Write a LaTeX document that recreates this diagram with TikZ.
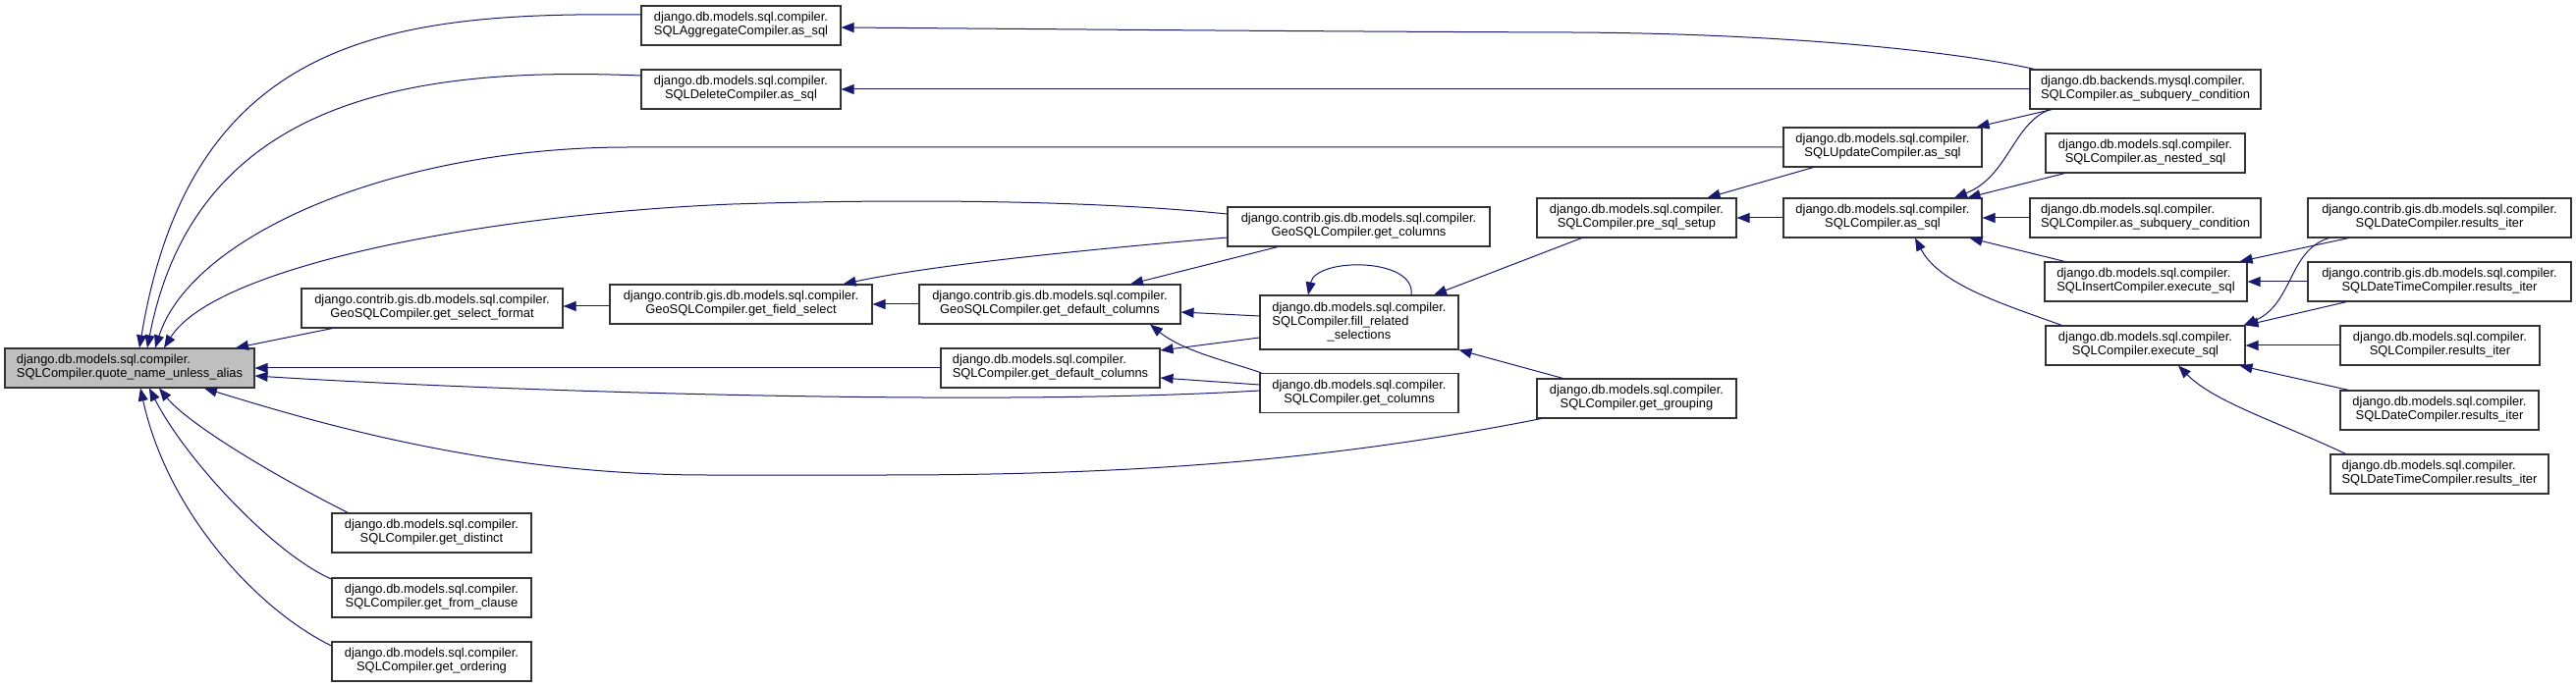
\documentclass[tikz,border=0pt]{standalone}
\usepackage{fontspec}
\setmainfont{Liberation Sans}
\usetikzlibrary{arrows.meta,calc}
\definecolor{edgeblue}{RGB}{25,25,112}
\definecolor{maingray}{RGB}{191,191,191}
\newcommand\twol[2]{\begin{tabular}{@{}l@{}}#1\\\multicolumn{1}{@{}c@{}}{#2}\end{tabular}}
\newcommand\threel[3]{\begin{tabular}{@{}l@{}}#1\\#2\\\multicolumn{1}{@{}c@{}}{#3}\end{tabular}}
\begin{document}
\begin{tikzpicture}[x=1pt,y=-1pt,
  box/.style={draw=black!80, line width=1.1pt, fill=white, minimum height=40pt, inner sep=0pt,
    font=\fontsize{12.9}{14}\selectfont},
  edge/.style={draw=edgeblue, line width=1pt, -{Triangle[length=13pt,width=10pt]}}]
\fill[white] (0,0) rectangle (2623,700);
\useasboundingbox (0,0) rectangle (2623,700);
% nodes
\node[box, fill=maingray, minimum width=254pt] (main) at (132,375) {\twol{django.db.models.sql.compiler.}{SQLCompiler.quote\_name\_unless\_alias}};
\node[box, minimum width=203pt] (aggas) at (754.5,26) {\twol{django.db.models.sql.compiler.}{SQLAggregateCompiler.as\_sql}};
\node[box, minimum width=203pt] (delas) at (754.5,91) {\twol{django.db.models.sql.compiler.}{SQLDeleteCompiler.as\_sql}};
\node[box, minimum width=266pt] (selfmt) at (440,314) {\twol{django.contrib.gis.db.models.sql.compiler.}{GeoSQLCompiler.get\_select\_format}};
\node[box, minimum width=267pt] (fieldsel) at (754.5,310) {\twol{django.contrib.gis.db.models.sql.compiler.}{GeoSQLCompiler.get\_field\_select}};
\node[box, minimum width=267pt] (geocols) at (1383.5,231) {\twol{django.contrib.gis.db.models.sql.compiler.}{GeoSQLCompiler.get\_columns}};
\node[box, minimum width=266pt] (geodefcols) at (1069,310) {\twol{django.contrib.gis.db.models.sql.compiler.}{GeoSQLCompiler.get\_default\_columns}};
\node[box, minimum width=223pt] (sqldefcols) at (1069.5,375) {\twol{django.db.models.sql.compiler.}{SQLCompiler.get\_default\_columns}};
\node[box, minimum width=202pt, minimum height=55pt] (fillrel) at (1384,328.5) {\threel{django.db.models.sql.compiler.}{SQLCompiler.fill\_related}{\_selections}};
\node[box, minimum width=202pt] (sqlcols) at (1384,400.5) {\twol{django.db.models.sql.compiler.}{SQLCompiler.get\_columns}};
\node[box, minimum width=203pt] (presql) at (1666.5,222) {\twol{django.db.models.sql.compiler.}{SQLCompiler.pre\_sql\_setup}};
\node[box, minimum width=203pt] (grouping) at (1666.5,406) {\twol{django.db.models.sql.compiler.}{SQLCompiler.get\_grouping}};
\node[box, minimum width=202pt] (updas) at (1917,150) {\twol{django.db.models.sql.compiler.}{SQLUpdateCompiler.as\_sql}};
\node[box, minimum width=235pt] (mysql) at (2184.5,91) {\twol{django.db.backends.mysql.compiler.}{SQLCompiler.as\_subquery\_condition}};
\node[box, minimum width=203pt] (asnested) at (2184.5,156) {\twol{django.db.models.sql.compiler.}{SQLCompiler.as\_nested\_sql}};
\node[box, minimum width=202pt] (assql) at (1917,222) {\twol{django.db.models.sql.compiler.}{SQLCompiler.as\_sql}};
\node[box, minimum width=235pt] (assubq) at (2184.5,222) {\twol{django.db.models.sql.compiler.}{SQLCompiler.as\_subquery\_condition}};
\node[box, minimum width=268pt] (gisdate) at (2484,222) {\twol{django.contrib.gis.db.models.sql.compiler.}{SQLDateCompiler.results\_iter}};
\node[box, minimum width=206pt] (insexec) at (2185,287) {\twol{django.db.models.sql.compiler.}{SQLInsertCompiler.execute\_sql}};
\node[box, minimum width=268pt] (gisdatetime) at (2484,287) {\twol{django.contrib.gis.db.models.sql.compiler.}{SQLDateTimeCompiler.results\_iter}};
\node[box, minimum width=203pt] (execsql) at (2184.5,352) {\twol{django.db.models.sql.compiler.}{SQLCompiler.execute\_sql}};
\node[box, minimum width=203pt] (resiter) at (2484.5,352) {\twol{django.db.models.sql.compiler.}{SQLCompiler.results\_iter}};
\node[box, minimum width=202pt] (dateres) at (2484,418) {\twol{django.db.models.sql.compiler.}{SQLDateCompiler.results\_iter}};
\node[box, minimum width=222pt] (datetimeres) at (2484,483) {\twol{django.db.models.sql.compiler.}{SQLDateTimeCompiler.results\_iter}};
\node[box, minimum width=203pt] (distinct) at (439.5,543) {\twol{django.db.models.sql.compiler.}{SQLCompiler.get\_distinct}};
\node[box, minimum width=203pt] (fromclause) at (439.5,609) {\twol{django.db.models.sql.compiler.}{SQLCompiler.get\_from\_clause}};
\node[box, minimum width=203pt] (ordering) at (439.5,674) {\twol{django.db.models.sql.compiler.}{SQLCompiler.get\_ordering}};
% edges into main
\draw[edge] ($(aggas.west)+(0,-11)$) .. controls (400,12) and (195,35) .. ($(main.north)+(10,0)$);
\draw[edge] ($(delas.west)+(0,-14)$) .. controls (430,68) and (200,95) .. ($(main.north)+(18,0)$);
\draw[edge] (updas.west) -- (640,150) .. controls (400,150) and (195,240) .. ($(main.north)+(26,0)$);
\draw[edge] ($(geocols.west)+(0,-13)$) .. controls (1100,203) and (900,203) .. (746,208) .. controls (500,218) and (220,270) .. ($(main.north)+(35,0)$);
\draw[edge] ($(selfmt.south west)+(32,0)$) -- ($(main.north)+(108,0)$);
\draw[edge] (sqldefcols.west) -- (main.east);
\draw[edge] ($(sqlcols.west)+(0,-2.5)$) .. controls (1000,415) and (500,398) .. ($(main.east)+(0,8)$);
\draw[edge] ($(grouping.south west)+(5,0)$) .. controls (1350,470) and (1150,484) .. (900,484) -- (720,484) .. controls (500,484) and (320,430) .. ($(main.south)+(76,0)$);
\draw[edge] ($(distinct.north west)+(17,0)$) .. controls (270,480) and (190,430) .. ($(main.south)+(30,0)$);
\draw[edge] ($(fromclause.west)+(0,-19)$) .. controls (280,565) and (190,470) .. ($(main.south)+(20,0)$);
\draw[edge] ($(ordering.west)+(0,-16)$) .. controls (260,620) and (170,520) .. ($(main.south)+(11,0)$);
% upper area
\draw[edge] ($(mysql.north west)+(5,0)$) .. controls (1980,50) and (1800,34) .. (1600,33) .. controls (1300,32) and (1000,29) .. ($(aggas.east)+(0,2)$);
\draw[edge] (mysql.west) -- (delas.east);
\draw[edge] ($(mysql.south west)+(23,0)$) -- ($(updas.north east)+(-6,0)$);
\draw[edge] ($(mysql.south west)+(21,0)$) .. controls (2050,125) and (2045,180) .. ($(assql.north)+(73,0)$);
\draw[edge] ($(fieldsel.west)+(0,2)$) -- ($(selfmt.east)+(0,-2)$);
\draw[edge] ($(geocols.west)+(0,11)$) .. controls (1100,255) and (950,270) .. ($(fieldsel.north east)+(-30,0)$);
\draw[edge] (geodefcols.west) -- (fieldsel.east);
\draw[edge] ($(geocols.south)+(-82.5,0)$) -- ($(geodefcols.north)+(82,0)$);
\draw[edge] ($(fillrel.west)+(0,-6.5)$) -- ($(geodefcols.east)+(0,8)$);
\draw[edge] ($(sqlcols.north west)+(2,0)$) .. controls (1250,368) and (1205,358) .. ($(geodefcols.south)+(102,0)$);
\draw[edge] ($(fillrel.west)+(0,15.5)$) -- ($(sqldefcols.east)+(0,-18)$);
\draw[edge] ($(sqlcols.west)+(0,-8.5)$) -- ($(sqldefcols.east)+(0,10)$);
\draw[edge] ($(fillrel.north)+(53,0)$) .. controls (1442,262) and (1340,262) .. ($(fillrel.north)+(-52,0)$);
\draw[edge] ($(presql.south west)+(46,0)$) -- ($(fillrel.north)+(76,0)$);
\draw[edge] ($(grouping.north west)+(27,0)$) -- (fillrel.south east);
\draw[edge] ($(updas.south west)+(31,0)$) -- ($(presql.north east)+(-30,0)$);
\draw[edge] (assql.west) -- (presql.east);
\draw[edge] ($(asnested.south west)+(20,0)$) -- ($(assql.north east)+(-15,0)$);
\draw[edge] (assubq.west) -- (assql.east);
\draw[edge] ($(insexec.north west)+(21,0)$) -- ($(assql.south east)+(-13,0)$);
\draw[edge] ($(execsql.north west)+(17,0)$) .. controls (2040,310) and (1975,290) .. ($(assql.south)+(33,0)$);
\draw[edge] ($(gisdate.south west)+(42,0)$) -- ($(insexec.north east)+(-8,0)$);
\draw[edge] ($(gisdate.south west)+(22,0)$) .. controls (2330,255) and (2335,310) .. ($(execsql.north east)+(-2,0)$);
\draw[edge] (gisdatetime.west) -- (insexec.east);
\draw[edge] ($(gisdatetime.south west)+(40,0)$) -- (execsql.north east);
\draw[edge] (resiter.west) -- (execsql.east);
\draw[edge] ($(dateres.north west)+(9,0)$) -- ($(execsql.south east)+(-6,0)$);
\draw[edge] ($(datetimeres.north west)+(16,0)$) .. controls (2320,430) and (2255,410) .. ($(execsql.south)+(33.5,0)$);
\end{tikzpicture}
\end{document}
